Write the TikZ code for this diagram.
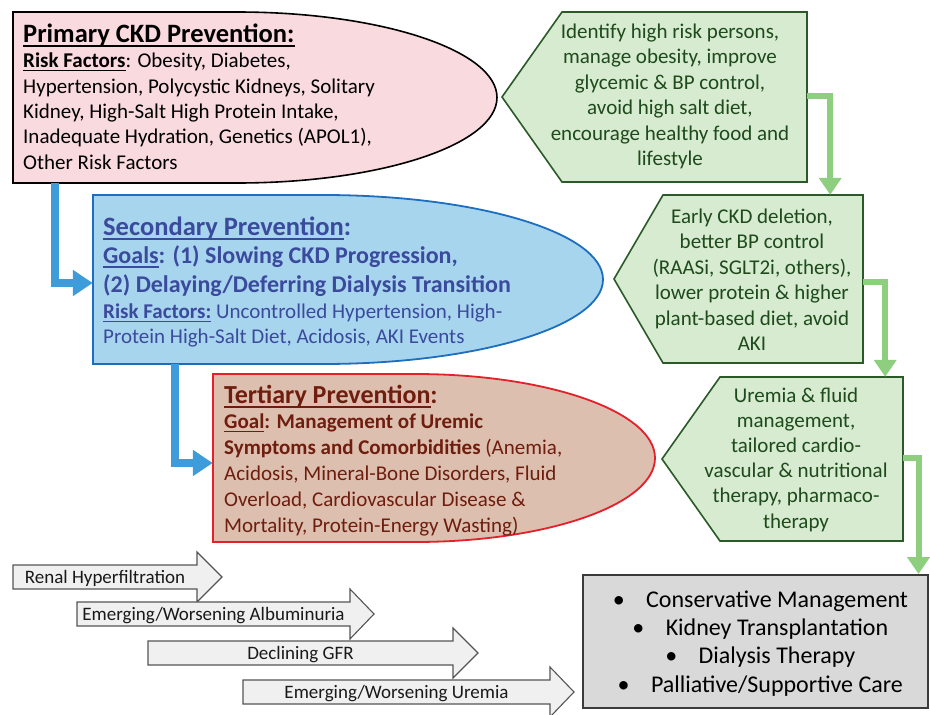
\documentclass[tikz,border=0pt]{standalone}
\usepackage{fontspec}
\setmainfont{Carlito}
\usetikzlibrary{arrows.meta,calc}
\definecolor{pinkf}{HTML}{F9DADF}
\definecolor{bluef}{HTML}{A8D5EE}
\definecolor{blueb}{HTML}{1C6EC0}
\definecolor{bluet}{HTML}{3A4A9C}
\definecolor{tanf}{HTML}{DDBFAF}
\definecolor{redb}{HTML}{E5202A}
\definecolor{brownt}{HTML}{6E1D0E}
\definecolor{greenf}{HTML}{D6EBCF}
\definecolor{greenb}{HTML}{2B5A28}
\definecolor{greent}{HTML}{1E4A1C}
\definecolor{greena}{HTML}{8DCF7E}
\definecolor{bluea}{HTML}{3E9CDA}
\definecolor{grayf}{HTML}{D9D9D9}
\definecolor{grayb}{HTML}{3A3A3A}
\definecolor{arrf}{HTML}{F0F0F0}
\definecolor{arrb}{HTML}{555555}
\newcommand\fs[1]{\fontsize{#1}{#1}\selectfont}
\newcommand\uln[1]{\setbox0\hbox{#1}\rlap{\rule[-0.2em]{\wd0}{0.07em}}\box0}
\begin{document}
\begin{tikzpicture}[x=1pt,y=-1pt,
  txt/.style={inner sep=0pt, anchor=base west},
  ctxt/.style={inner sep=0pt, anchor=base},
  gtxt/.style={ctxt, text=greent, font=\fs{21}},
  bluearrow/.style={draw=bluea, line width=8pt, -{Triangle[length=20pt,width=25pt]}},
  greenarrow/.style={draw=greena, line width=6pt, -{Triangle[length=17pt,width=22pt]}},
  pent/.style={draw=greenb, fill=greenf, line width=1.6pt, line join=miter},
  grarrow/.style={draw=arrb, fill=arrf, line width=1.1pt}]
\useasboundingbox (0,0) rectangle (930,715);

% ---------- big rounded shapes ----------
\path[draw=black, fill=pinkf, line width=1.6pt] (13,12) -- (237,12)
  .. controls (380.6,12) and (497,50.3) .. (497,97.5)
  .. controls (497,144.7) and (380.6,183) .. (237,183) -- (13,183) -- cycle;
\path[draw=blueb, fill=bluef, line width=1.8pt] (93,195) -- (323,195)
  .. controls (477.6,195) and (603,232.8) .. (603,279.5)
  .. controls (603,326.2) and (477.6,364) .. (323,364) -- (93,364) -- cycle;
\path[draw=redb, fill=tanf, line width=1.8pt] (213,374) -- (415,374)
  .. controls (547.6,374) and (655,411.6) .. (655,458)
  .. controls (655,504.4) and (547.6,542) .. (415,542) -- (213,542) -- cycle;

% anchor nodes for shapes
\node[inner sep=0pt, minimum width=484pt, minimum height=171pt] (prim) at (255,97.5) {};
\node[inner sep=0pt, minimum width=510pt, minimum height=169pt] (sec) at (348,279.5) {};
\node[inner sep=0pt, minimum width=442pt, minimum height=168pt] (ter) at (434,458) {};

% ---------- green pentagons ----------
\path[pent] (502,97) -- (562,12) -- (807,12) -- (807,182) -- (562,182) -- cycle;
\path[pent] (614,279) -- (663,195) -- (863,195) -- (863,363) -- (663,363) -- cycle;
\path[pent] (662,459) -- (720,377) -- (903,377) -- (903,541) -- (720,541) -- cycle;
\node[inner sep=0pt, minimum width=305pt, minimum height=170pt] (g1) at (654.5,97) {};
\node[inner sep=0pt, minimum width=249pt, minimum height=168pt] (g2) at (738.5,279) {};
\node[inner sep=0pt, minimum width=241pt, minimum height=164pt] (g3) at (782.5,459) {};

% ---------- gray outcome box ----------
\node[draw=grayb, fill=grayf, line width=2pt, inner sep=0pt,
  minimum width=345pt, minimum height=133pt] (out) at (755,641.5) {};

% ---------- connectors ----------
\draw[bluearrow] ([xshift=42pt]prim.south west) |- ([yshift=-3.5pt]sec.west);
\draw[bluearrow] ([xshift=82pt]sec.south west) |- ([yshift=-5pt]ter.west);
\draw[greenarrow] ([yshift=1.5pt]g1.east) -| ([xshift=-33pt]g2.north east);
\draw[greenarrow] ([yshift=-3pt]g2.east) -| ([xshift=-18pt]g3.north east);
\draw[greenarrow] ([yshift=1pt]g3.east) -| ([xshift=-10pt]out.north east);

% ---------- primary text ----------
\node[txt] (p-t) at (23,42) {\fs{26.5}\textbf{\uln{Primary CKD Prevention:}}};
\begin{scope}[font=\fs{21}]
\node[txt] (p-1) at (23,67) {\textbf{\uln{Risk Factors}}: Obesity, Diabetes,};
\node[txt] (p-2) at (23,93) {Hypertension, Polycystic Kidneys, Solitary};
\node[txt] (p-3) at (23,118) {Kidney, High-Salt High Protein Intake,};
\node[txt] (p-4) at (23,143) {Inadequate Hydration, Genetics (APOL1),};
\node[txt] (p-5) at (23,169) {Other Risk Factors};
\end{scope}

% ---------- secondary text ----------
\begin{scope}[text=bluet]
\node[txt] (s-t) at (103,235) {\fs{26.5}\textbf{\uln{Secondary Prevention}:}};
\node[txt] (s-1) at (103,263) {\fs{24}\textbf{\uln{Goals}: (1) Slowing CKD Progression,}};
\node[txt] (s-2) at (103,292) {\fs{24}\textbf{(2) Delaying/Deferring Dialysis Transition}};
\node[txt] (s-3) at (103,318) {\fs{21}\textbf{\uln{Risk Factors:}} Uncontrolled Hypertension, High-};
\node[txt] (s-4) at (103,343) {\fs{21}Protein High-Salt Diet, Acidosis, AKI Events};
\end{scope}

% ---------- tertiary text ----------
\begin{scope}[text=brownt]
\node[txt] (t-t) at (224,403) {\fs{26}\textbf{\uln{Tertiary Prevention}:}};
\begin{scope}[font=\fs{21}]
\node[txt] (t-1) at (224,428) {\textbf{\uln{Goal}: Management of Uremic}};
\node[txt] (t-2) at (224,454) {\textbf{Symptoms and Comorbidities} (Anemia,};
\node[txt] (t-3) at (224,480) {Acidosis, Mineral-Bone Disorders, Fluid};
\node[txt] (t-4) at (224,506) {Overload, Cardiovascular Disease \&};
\node[txt] (t-5) at (224,532) {Mortality, Protein-Energy Wasting)};
\end{scope}
\end{scope}

% ---------- green texts ----------
\foreach \l [count=\i] in {{Identify high risk persons,},{manage obesity, improve},{glycemic \& BP control,},{avoid high salt diet,},{encourage healthy food and},{lifestyle}}
  \node[gtxt] (ga-\i) at (670,{38+25.5*(\i-1)}) {\l};
\foreach \l [count=\i] in {{Early CKD deletion,},{better BP control},{(RAASi, SGLT2i, others),},{lower protein \& higher},{plant-based diet, avoid},{AKI}}
  \node[gtxt] (gb-\i) at (752,{223+25.5*(\i-1)}) {\l};
\foreach \l [count=\i] in {{Uremia \& fluid},{management,},{tailored cardio-},{vascular \& nutritional},{therapy, pharmaco-},{therapy}}
  \node[gtxt] (gc-\i) at (796,{402+25.2*(\i-1)}) {\l};

% ---------- outcome text ----------
\foreach \l/\yy [count=\i] in {{Conservative Management}/607,{Kidney Transplantation}/635,{Dialysis Therapy}/663,{Palliative/Supportive Care}/692}{
  \node[ctxt, font=\fs{24}] (o-\i) at (777,\yy) {\l};
  \node[inner sep=0pt, anchor=base east, font=\fs{24}] (ob-\i) at ([xshift=-21pt]o-\i.base west) {\textbullet};
}

% ---------- progression arrows ----------
\foreach \x/\b/\t/\cy/\lab [count=\i] in {13/197/222/577/{Renal Hyperfiltration},77/350/374/614/{Emerging/Worsening Albuminuria},148/453/478/653/{Declining GFR},243/550/574/692/{Emerging/Worsening Uremia}}{
  \path[grarrow] (\x,\cy-12) -- (\b,\cy-12) -- (\b,\cy-25) -- (\t,\cy) -- (\b,\cy+25) -- (\b,\cy+12) -- (\x,\cy+12) -- cycle;
  \node[ctxt, font=\fs{19}, text=black!90] (pa-\i) at ({(\x+\b)/2},\cy+6.5) {\lab};
}
\end{tikzpicture}
\end{document}
